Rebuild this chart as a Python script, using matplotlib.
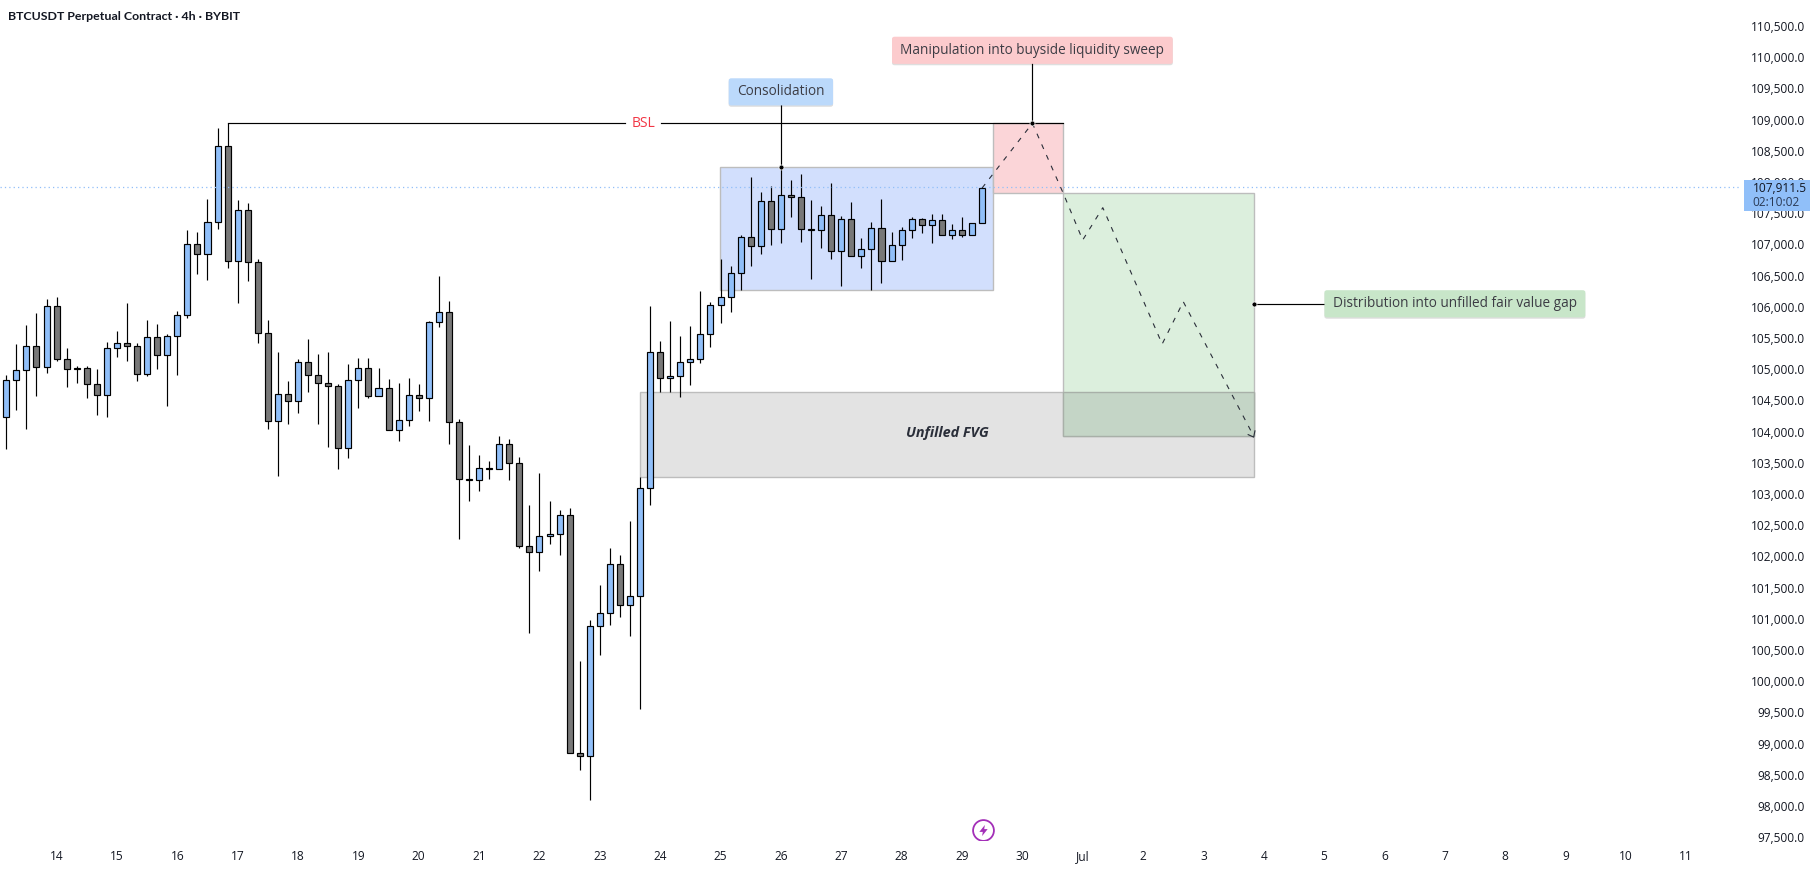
import matplotlib
matplotlib.use("Agg")
import matplotlib.pyplot as plt
import matplotlib.patheffects as pe
from matplotlib.patches import Rectangle

plt.rcParams['font.family'] = ['Open Sans', 'DejaVu Sans']

# 4h candles
opens = [104227, 104820, 104980, 105365, 105029, 106006, 105157, 105012, 105012, 104755,
         104579, 105332, 105412, 105365, 104916, 105508, 105220, 105525, 105861, 106999,
         106839, 107351, 108569, 106726, 107544, 106710, 105573, 104162, 104595, 104483,
         105108, 104899, 104771, 104724, 103730, 104820, 105012, 104563, 104692, 104018,
         104179, 104579, 104531, 105749, 105910, 104147, 103233, 103217, 103409, 103393,
         103794, 103490, 102170, 102064, 102320, 102352, 102656, 98842, 98794, 100878,
         101086, 101871, 101214, 101358, 103089, 105268, 104852, 104884, 105108, 105156,
         105557, 106022, 106150, 106534, 107111, 106967, 107688, 107240, 107784, 107752,
         107235, 107224, 107464, 106887, 107400, 106807, 106919, 107256, 106727, 106983,
         107224, 107400, 107304, 107384, 107143, 107224, 107143, 107336]
highs = [104905, 105397, 105707, 105894, 106118, 106150, 105338, 105044, 105044, 104996,
         105428, 105610, 106059, 105412, 105786, 105722, 105557, 105930, 107223, 107191,
         107720, 108858, 108938, 107704, 107656, 106759, 105786, 105268, 104803, 105157,
         105476, 105236, 105268, 104756, 105076, 105172, 105172, 105012, 104836, 104772,
         104852, 104756, 105765, 106486, 106086, 104195, 103778, 103618, 103522, 103922,
         103874, 103586, 102817, 103330, 102881, 102737, 102769, 100317, 100974, 101535,
         102128, 102015, 102560, 103265, 106011, 105445, 105765, 105525, 105685, 106246,
         106070, 106759, 106647, 107143, 108073, 107833, 107929, 108244, 108025, 108121,
         107704, 107608, 107977, 107448, 107672, 107095, 107352, 107720, 107192, 107272,
         107432, 107416, 107480, 107480, 107320, 107432, 107336, 107911.5]
lows = [103725, 104350, 104046, 104574, 104943, 105135, 104718, 104777, 104542, 104269,
        104237, 105199, 105135, 104814, 104894, 105006, 104413, 104910, 105824, 106529,
        106433, 107250, 106625, 106064, 106417, 105423, 104046, 103292, 104125, 104301,
        104638, 104125, 103756, 103404, 103580, 104382, 104542, 104563, 104018, 103853,
        104093, 104334, 104173, 105680, 103805, 102277, 102891, 103052, 103244, 103393,
        103228, 102138, 100776, 101770, 102202, 102026, 98842, 98581, 98100, 100424,
        100904, 101033, 100728, 99558, 102827, 104638, 104638, 104558, 104750, 105103,
        105359, 105744, 105920, 106267, 106657, 106850, 106994, 107026, 107443, 107042,
        106449, 106946, 106769, 106337, 106807, 106625, 106273, 106385, 106727, 106753,
        107106, 107186, 107026, 107143, 107090, 107111, 107143, 107336]
closes = [104820, 104980, 105365, 105029, 106006, 105157, 104996, 104996, 104755, 104579,
          105332, 105412, 105365, 104916, 105508, 105220, 105525, 105861, 106999, 106839,
          107351, 108569, 106726, 107544, 106710, 105573, 104162, 104595, 104483, 105108,
          104899, 104771, 104723, 103730, 104820, 105012, 104563, 104692, 104018, 104179,
          104579, 104531, 105749, 105910, 104147, 103233, 103217, 103409, 103393, 103794,
          103490, 102170, 102064, 102320, 102352, 102656, 98842, 98794, 100878, 101086,
          101871, 101214, 101358, 103089, 105268, 104852, 104884, 105108, 105156, 105557,
          106022, 106150, 106534, 107111, 106967, 107688, 107240, 107784, 107752, 107240,
          107245, 107464, 106887, 107400, 106807, 106919, 107256, 106727, 106983, 107224,
          107400, 107304, 107384, 107143, 107224, 107143, 107336, 107897]

day_bars = list(range(5, 168, 6))
day_labels = ['14', '15', '16', '17', '18', '19', '20', '21', '22', '23', '24', '25', '26', '27',
              '28', '29', '30', 'Jul', '2', '3', '4', '5', '6', '7', '8', '9', '10', '11']
price_ticks = list(range(97500, 111000, 500))
last_price = 107911.5

# drawings: (left bar, right bar, top price, bottom price)
fvg_box = (63.02, 124.06, 104628, 103266)
consolidation_box = (70.97, 98.05, 108234, 106263)
manipulation_box = (98.05, 105.07, 108939, 107817)
distribution_box = (105.07, 124.06, 107817, 103922)
path_bars = [97.0, 102.0, 105.07, 107.0, 109.0, 114.9, 117.0, 124.0]
path_prices = [107902, 108939, 107817, 107069, 107587, 105402, 106080, 103925]

W, H = 1815, 871
up_color = '#90bff9'
down_color = '#787878'
text_color = '#131722'

fig = plt.figure(figsize=(W / 100, H / 100), dpi=100)
ax = fig.add_axes([0, 1 - 840 / H, 1741 / W, 840 / H])
ax.set_xlim(-0.626, 172.44)
ax.set_ylim(97454, 110915)
for s in ax.spines.values():
    s.set_visible(False)

# zones
def zone(box, color):
    left, right, top, bottom = box
    ax.add_patch(Rectangle((left, bottom), right - left, top - bottom, facecolor=color,
                           edgecolor='#bdbdbd', linewidth=1.0, zorder=1))

zone(fvg_box, '#e3e3e3')
zone(consolidation_box, '#d2dffd')
zone(manipulation_box, '#fbd5d8')
zone(distribution_box, '#dcefdd')
# overlap of FVG and target
ax.add_patch(Rectangle((distribution_box[0], distribution_box[3]),
                       distribution_box[1] - distribution_box[0], fvg_box[2] - distribution_box[3],
                       facecolor='#c4d5c6', edgecolor='#a8b0a8', linewidth=1.0, zorder=1))

# candles
for i in range(len(opens)):
    is_up = closes[i] >= opens[i]
    ax.vlines(i, lows[i], highs[i], color='black', linewidth=0.85, zorder=3)
    ax.bar(i, abs(closes[i] - opens[i]), bottom=min(opens[i], closes[i]), width=0.6,
           color=up_color if is_up else down_color, edgecolor='black', linewidth=0.85, zorder=4)

# last price line
ax.axhline(last_price, color=up_color, linewidth=0.9, linestyle=(0, (1, 2.5)), zorder=5)

# BSL line
ax.plot([22, 61.5], [108939, 108939], color='black', linewidth=0.85, zorder=3)
ax.plot([65.1, 105.07], [108939, 108939], color='black', linewidth=0.85, zorder=3)
ax.text(63.3, 108939, 'BSL', color='#f23645', fontsize=10, ha='center', va='center')

# projected path
ax.plot(path_bars, path_prices, color='#2a2e39', linewidth=0.8, linestyle=(0, (4.5, 6)), zorder=6)
ax.plot([123.45, 124.0, 124.12], [103950, 103910, 104010], color='#2a2e39', linewidth=0.8, zorder=6)

# callouts
ax.plot([77, 77], [108234, 109443], color='black', linewidth=0.85, zorder=6)
ax.plot([102, 102], [108939, 110109], color='black', linewidth=0.85, zorder=6)
ax.plot([124.06, 144], [106047, 106047], color='black', linewidth=0.85, zorder=6)
ax.plot([77, 102, 124.06], [108234, 108939, 106047], linestyle='none', marker='o', markersize=3.6,
        color='black', markeredgecolor='white', markeredgewidth=0.5, zorder=7)

def label(x, y, txt, color):
    t = ax.text(x, y, txt, fontsize=9.8, color='#3c3c44', ha='center', va='center', zorder=8,
                bbox=dict(boxstyle='round,pad=0.62,rounding_size=0.2', facecolor=color,
                          edgecolor='none', mutation_aspect=0.72))
    t.get_bbox_patch().set_path_effects([
        pe.SimplePatchShadow(offset=(0, -1), shadow_rgbFace='black', alpha=0.13), pe.Normal()])

label(77, 109443, 'Consolidation', '#bbd9fb')
label(102, 110109, 'Manipulation into buyside liquidity sweep', '#fccbcd')
label(144, 106047, 'Distribution into unfilled fair value gap', '#c8e6c9')
ax.text(93.5, 103976, 'Unfilled FVG', fontsize=10.4, fontweight='bold', fontstyle='italic',
        color='#2a2e39', ha='center', va='center', zorder=8)

# title
ax.text(8 / 1741, 1 - 16 / 840, 'BTCUSDT Perpetual Contract · 4h · BYBIT', transform=ax.transAxes,
        fontsize=8.9, fontweight='bold', family=['Lato', 'DejaVu Sans'], color=text_color,
        ha='left', va='center')

# purple bolt
ax.plot([97.1], [97609], marker='o', markersize=15, markerfacecolor='white',
        markeredgecolor='#a32fb8', markeredgewidth=1.3, zorder=6)
ax.plot([97.1], [97609], marker=[(1, 4), (-3, -1), (-0.5, -1), (-1, -4), (3, 1), (0.5, 1)],
        markersize=8, color='#a32fb8', markeredgewidth=0, zorder=7)

# axes
ax.set_xticks(day_bars)
ax.set_xticklabels(day_labels, fontsize=8.6, color=text_color)
ax.yaxis.tick_right()
ax.set_yticks(price_ticks)
ax.set_yticklabels([f'{p:,.1f}' for p in price_ticks], fontsize=8.6, color=text_color, ha='right')
ax.tick_params(axis='x', length=0, pad=7.5)
ax.tick_params(axis='y', length=0, pad=46)

# price tag
fig.patches.append(Rectangle((1744 / W, 1 - 211 / H), 66 / W, 31 / H, transform=fig.transFigure,
                             facecolor=up_color, edgecolor='none', zorder=5))
fig.text(1752.7 / W, 1 - 188 / H, '107,911.5', fontsize=8.6, color=text_color, ha='left', va='center', zorder=6)
fig.text(1752.7 / W, 1 - 202.5 / H, '02:10:02', fontsize=8.6, color='#2a3a55', ha='left', va='center', zorder=6)

fig.savefig('out.png', dpi=100)
